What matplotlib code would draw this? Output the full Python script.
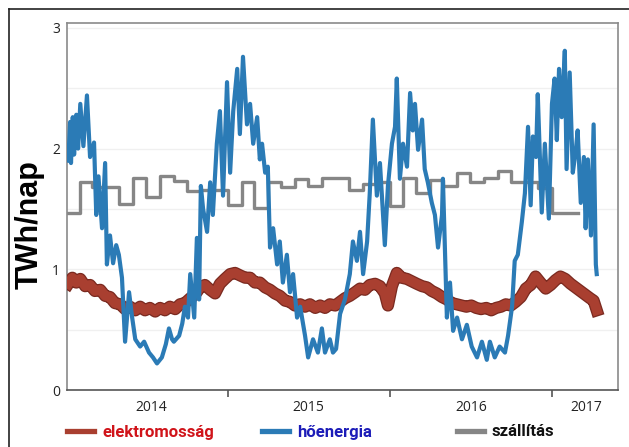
import numpy as np
import matplotlib
matplotlib.use("Agg")
import matplotlib.pyplot as plt
import matplotlib.patheffects as pe
from matplotlib.lines import Line2D
from matplotlib.ticker import MultipleLocator
import matplotlib.dates as mdates

START = np.datetime64("2014-01-01")

# szallitas: monthly values, Jan 2014 .. Feb 2017
szall_vals = [1.47, 1.72, 1.68, 1.68, 1.54, 1.76, 1.60, 1.77, 1.73, 1.65, 1.66, 1.66,
              1.53, 1.72, 1.51, 1.72, 1.68, 1.75, 1.69, 1.76, 1.76, 1.66, 1.71, 1.72,
              1.52, 1.76, 1.63, 1.74, 1.69, 1.80, 1.72, 1.76, 1.81, 1.72, 1.72, 1.67,
              1.47, 1.47]

# elektromossag: days since 2014-01-01 and TWh/nap
elek_days = [5, 14, 23, 32, 43, 54, 65, 77, 88, 99, 110, 122, 133, 144, 156, 167, 178, 189,
             201, 212, 223, 234, 246, 257, 268, 280, 291, 302, 313, 325, 336, 347, 358, 370,
             381, 392, 404, 415, 426, 437, 449, 460, 471, 482, 494, 505, 516, 528, 539, 550,
             562, 573, 584, 595, 607, 618, 629, 640, 652, 663, 674, 685, 697, 708, 719, 726,
             735, 746, 757, 769, 780, 791, 803, 814, 825, 836, 848, 859, 870, 881, 892, 903,
             914, 925, 936, 948, 959, 970, 981, 992, 1003, 1014, 1026, 1037, 1048, 1059, 1070,
             1082, 1093, 1104, 1115, 1126, 1138, 1149, 1160, 1171, 1182, 1190, 1197]
elek_vals = [0.88, 0.93, 0.89, 0.92, 0.86, 0.87, 0.82, 0.83, 0.78, 0.77, 0.72, 0.71, 0.67,
             0.69, 0.66, 0.69, 0.66, 0.68, 0.65, 0.68, 0.66, 0.69, 0.67, 0.71, 0.72, 0.76,
             0.79, 0.85, 0.87, 0.83, 0.80, 0.88, 0.92, 0.96, 0.97, 0.95, 0.93, 0.93, 0.89,
             0.89, 0.85, 0.83, 0.80, 0.78, 0.74, 0.73, 0.70, 0.71, 0.69, 0.71, 0.68, 0.70,
             0.68, 0.71, 0.70, 0.73, 0.76, 0.78, 0.81, 0.84, 0.83, 0.87, 0.88, 0.86, 0.80,
             0.70, 0.86, 0.97, 0.93, 0.92, 0.90, 0.88, 0.86, 0.85, 0.82, 0.80, 0.77, 0.75,
             0.72, 0.71, 0.70, 0.69, 0.70, 0.68, 0.67, 0.68, 0.66, 0.68, 0.69, 0.71, 0.70,
             0.73, 0.77, 0.84, 0.87, 0.94, 0.89, 0.84, 0.87, 0.91, 0.94, 0.92, 0.88, 0.85,
             0.82, 0.79, 0.76, 0.74, 0.66]

# hoenergia: days since 2014-01-01 and TWh/nap
ho_days = [5, 9, 11, 15, 18, 23, 27, 32, 39, 47, 54, 63, 68, 73, 81, 88, 92, 99, 106, 113,
           119, 126, 133, 142, 149, 156, 167, 176, 187, 196, 205, 216, 225, 232, 239, 243,
           255, 262, 268, 275, 280, 289, 295, 300, 304, 309, 318, 325, 331, 340, 347, 354,
           363, 370, 377, 386, 392, 399, 408, 415, 422, 431, 437, 442, 449, 455, 460, 467,
           476, 482, 489, 498, 505, 512, 521, 528, 539, 546, 557, 568, 577, 584, 595, 602,
           609, 618, 629, 640, 647, 656, 663, 670, 679, 685, 692, 701, 708, 715, 719, 726,
           735, 742, 746, 753, 760, 769, 776, 782, 787, 794, 803, 809, 816, 825, 832, 839,
           848, 850, 859, 866, 873, 882, 893, 904, 915, 927, 938, 949, 956, 967, 978, 990,
           997, 1006, 1012, 1019, 1028, 1035, 1042, 1048, 1053, 1060, 1064, 1073, 1080,
           1089, 1096, 1102, 1107, 1112, 1118, 1125, 1129, 1136, 1143, 1150, 1154, 1161,
           1168, 1172, 1177, 1184, 1190, 1195, 1197]
ho_vals = [1.90, 2.22, 1.88, 2.26, 1.95, 2.28, 2.00, 2.37, 2.02, 2.44, 1.93, 2.05, 1.45, 1.77,
           1.34, 1.88, 1.04, 1.28, 1.05, 1.20, 1.12, 0.93, 0.40, 0.81, 0.60, 0.42, 0.36, 0.40,
           0.31, 0.27, 0.22, 0.27, 0.38, 0.51, 0.42, 0.40, 0.45, 0.55, 0.69, 0.60, 0.96, 0.60,
           1.26, 0.75, 1.69, 1.50, 1.31, 1.72, 1.45, 2.04, 2.31, 1.61, 2.55, 1.80, 2.31, 2.66,
           2.12, 2.76, 2.20, 2.37, 2.04, 2.26, 1.91, 2.04, 1.80, 1.85, 1.18, 1.34, 1.04, 1.23,
           0.89, 1.12, 0.81, 0.96, 0.60, 0.69, 0.45, 0.27, 0.42, 0.31, 0.51, 0.31, 0.42, 0.31,
           0.34, 0.63, 0.75, 0.96, 1.23, 1.07, 1.31, 0.96, 1.23, 1.63, 2.24, 1.61, 1.88, 1.45,
           1.20, 1.69, 2.04, 2.18, 2.58, 1.75, 2.04, 1.85, 2.46, 2.15, 2.37, 1.99, 2.24, 1.83,
           1.72, 1.55, 1.45, 1.18, 1.45, 1.75, 0.60, 0.89, 0.49, 0.60, 0.42, 0.54, 0.36, 0.27,
           0.40, 0.25, 0.40, 0.27, 0.36, 0.31, 0.45, 0.69, 1.07, 1.12, 1.39, 1.63, 2.18, 1.53,
           2.10, 1.93, 2.45, 1.47, 2.04, 1.42, 2.37, 2.58, 2.07, 2.66, 2.26, 2.81, 1.83, 2.63,
           1.80, 1.99, 2.15, 1.55, 1.93, 1.34, 1.91, 1.28, 2.20, 1.04, 0.96]

YEARS = ["2014", "2015", "2016", "2017"]

RED = "#a93f30"
BLUE = "#2b7bb6"
GRAY = "#868686"

fig = plt.figure(figsize=(6.29, 4.47), dpi=100)
ax = fig.add_axes([67 / 629, 1 - 390 / 447, (618 - 67) / 629, (390 - 23) / 447])

elek_x = START + np.array(elek_days).astype("timedelta64[D]")
ho_x = START + np.array(ho_days).astype("timedelta64[D]")
month_x = np.arange(np.datetime64("2014-01"), np.datetime64("2017-04"),
                    np.timedelta64(1, "M")).astype("datetime64[D]")
szall_x = month_x[:len(szall_vals) + 1]
szall_y = szall_vals + [szall_vals[-1]]

ax.step(szall_x, szall_y, where="post", color=GRAY, lw=2.4, zorder=2)
ax.plot(elek_x, elek_vals, color=RED, lw=7, zorder=3,
        path_effects=[pe.Stroke(linewidth=8.8, foreground="#7a2a20"), pe.Normal()])
ax.plot(ho_x, ho_vals, color=BLUE, lw=3.0, zorder=4)

ax.set_ylim(0, 3.04)
ax.set_xlim(np.datetime64("2014-01-03"), np.datetime64("2017-05-30"))
ax.yaxis.set_major_locator(MultipleLocator(1))
ax.yaxis.set_minor_locator(MultipleLocator(0.5))
ax.grid(True, which="both", axis="y", color="#f0f0f0", lw=1)
ax.set_axisbelow(True)

ax.xaxis.set_major_locator(mdates.YearLocator())
ax.xaxis.set_major_formatter(plt.NullFormatter())
ax.tick_params(axis="x", which="major", length=5, width=1.2, color="#555")
ax.tick_params(axis="y", which="both", length=0, pad=5)
for lab in ax.get_yticklabels():
    lab.set_family("Open Sans")
    lab.set_fontsize(10)
    lab.set_color("#222")

# year labels centered in each year span
lab_pos = [np.datetime64("2014-07-12"), np.datetime64("2015-07-02"),
           np.datetime64("2016-07-02"), np.datetime64("2017-03-20")]
trans = ax.get_xaxis_transform()
for pos, yr in zip(lab_pos, YEARS):
    ax.text(mdates.date2num(pos), -0.027, yr, transform=trans, ha="center", va="top",
            fontsize=10, family="Open Sans", color="#222")

for side in ["left", "top", "right"]:
    ax.spines[side].set_color("#8a8a8a")
    ax.spines[side].set_linewidth(1.2)
ax.spines["bottom"].set_color("#555")
ax.spines["bottom"].set_linewidth(1.2)

fig.text(30 / 629, 1 - 225 / 447, "TWh/nap", rotation=90, ha="center", va="center",
         family=["Liberation Sans", "DejaVu Sans"], fontweight="bold", fontsize=22)

# legend entries below the plot
entries = [("elektromosság", RED, "#d0141a", 67), ("hőenergia", BLUE, "#1c1cb8", 262),
           ("szállítás", GRAY, "#111111", 457)]
for name, lcol, tcol, px in entries:
    h = Line2D([], [], color=lcol, lw=3.8)
    fig.legend([h], [name], loc="center left", bbox_to_anchor=(px / 629, 1 - 432 / 447),
               frameon=False, borderpad=0, borderaxespad=0, handlelength=1.6,
               handletextpad=0.5, labelcolor=tcol,
               prop=dict(family=["Roboto", "DejaVu Sans"], weight="bold", size=12))

# outer frame
fig.add_artist(Line2D([9 / 629, 9 / 629], [0, 1 - 9 / 447], color="#222", lw=1.2,
                      transform=fig.transFigure))
fig.add_artist(Line2D([9 / 629, 1], [1 - 9 / 447, 1 - 9 / 447], color="#222", lw=1.2,
                      transform=fig.transFigure))

fig.savefig("out.png", dpi=100, facecolor="white")
